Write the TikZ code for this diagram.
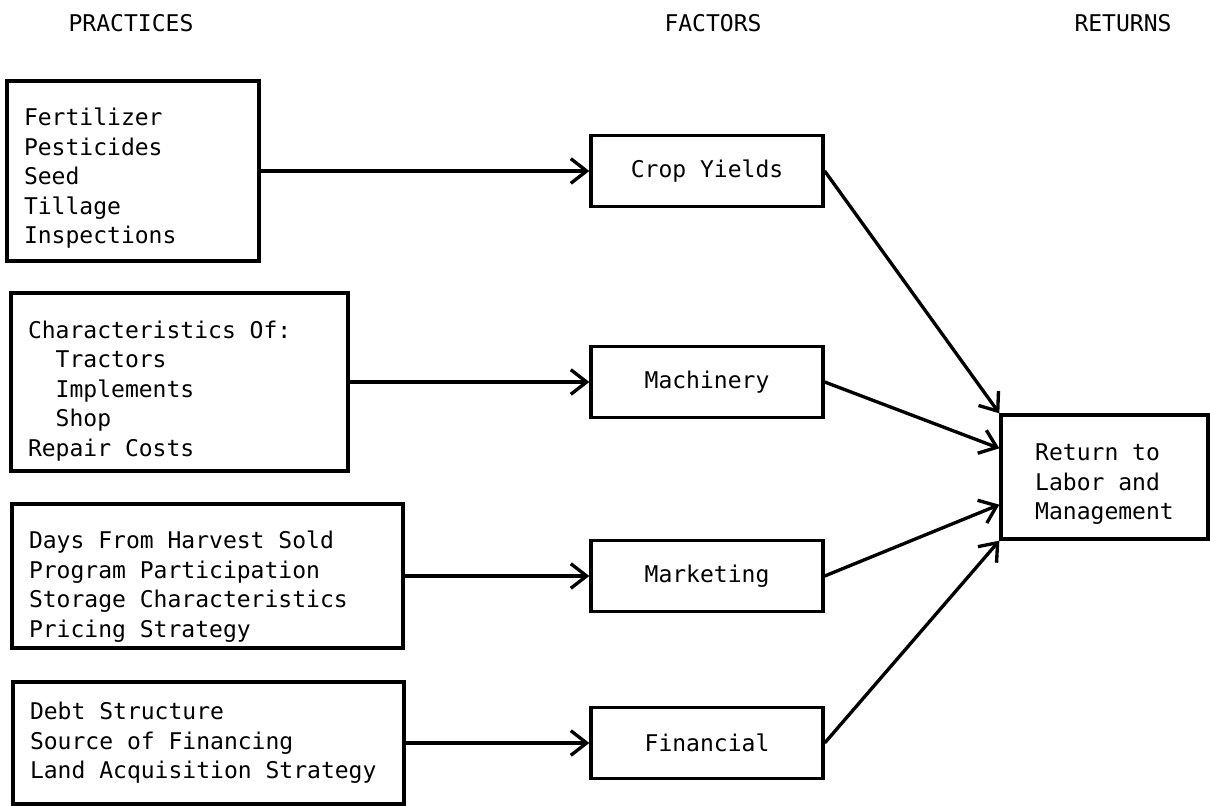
\documentclass[tikz,border=0pt]{standalone}
\usepackage{fontspec}
\usetikzlibrary{arrows.meta}
\newfontfamily\typer{DejaVu Sans Mono}
\newcommand{\sub}{\hphantom{xx}}
\newcommand{\lift}[1]{\rule{0pt}{#1}}

\begin{document}
\begin{tikzpicture}[
   font=\typer\fontsize{13.1}{16.8}\selectfont,
   box/.style={draw, line width=1.9pt, inner xsep=0.34cm, align=left,
      execute at begin node={\spaceskip=0pt\xspaceskip=0pt}},
   fbox/.style={draw, line width=1.9pt, minimum width=4.64cm, minimum height=1.42cm},
   arr/.style={line width=1.9pt, -{Straight Barb[length=9pt,width=14pt]}}]
   \useasboundingbox (0,0) rectangle (24.2,-16.12);
   % column heads
   \draw ( 2.62,-0.46) node (hprac) {PRACTICES};
   \draw (14.26,-0.46) node (hfac)  {FACTORS};
   \draw (22.46,-0.46) node (hret)  {RETURNS};
   % practices
   \draw ( 2.66, -3.42) node[box, text width=4.36cm, minimum height=3.60cm] (p1)
      {\lift{18.5pt}Fertilizer\\Pesticides\\Seed\\Tillage\\Inspections};
   \draw ( 3.59, -7.64) node[box, text width=6.06cm, minimum height=3.56cm] (p2)
      {\lift{20pt}Characteristics Of:\\\sub Tractors\\\sub Implements\\\sub Shop\\Repair Costs};
   \draw ( 4.15,-11.52) node[box, text width=7.14cm, minimum height=2.80cm] (p3)
      {\lift{22pt}Days From Harvest Sold\\Program Participation\\Storage Characteristics\\Pricing Strategy};
   \draw ( 4.17,-14.86) node[box, text width=7.14cm, minimum height=2.44cm] (p4)
      {Debt Structure\\Source of Financing\\Land Acquisition Strategy};
   % factors
   \draw (14.14, -3.42) node[fbox] (f1) {Crop Yields};
   \draw (14.14, -7.64) node[fbox] (f2) {Machinery};
   \draw (14.14,-11.52) node[fbox] (f3) {Marketing};
   \draw (14.14,-14.86) node[fbox] (f4) {Financial};
   % returns
   \draw (22.09, -9.54) node[box, minimum width=4.14cm, minimum height=2.48cm] (ret)
      {\lift{18pt}Return to\\Labor and\\Management};
   % arrows
   \draw[arr] (p1) -- (f1);
   \draw[arr] (p2) -- (f2);
   \draw[arr] (p3) -- (f3);
   \draw[arr] (p4) -- (f4);
   \draw[arr] (f1.east) -- (ret.north west);
   \draw[arr] (f2.east) -- ([yshift=-0.70cm]ret.north west);
   \draw[arr] (f3.east) -- ([yshift= 0.72cm]ret.south west);
   \draw[arr] (f4.east) -- (ret.south west);
\end{tikzpicture}
\end{document}
